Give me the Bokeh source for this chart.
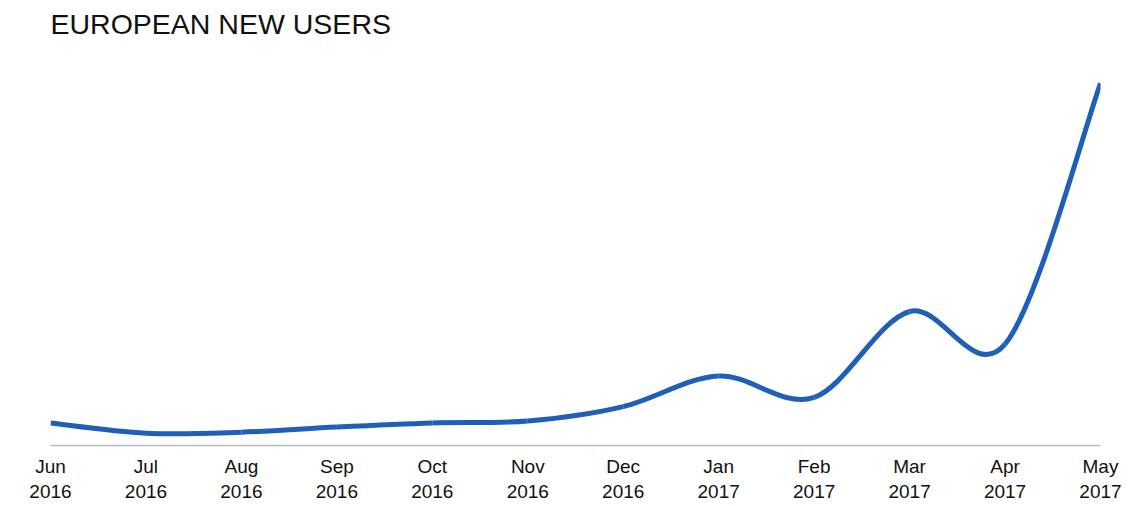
from bokeh.plotting import figure
from bokeh.models import FixedTicker, Range1d
from bokeh.embed import file_html
from bokeh.resources import INLINE

months = ["Jun", "Jul", "Aug", "Sep", "Oct", "Nov", "Dec", "Jan", "Feb", "Mar", "Apr", "May"]
years = ["2016"] * 7 + ["2017"] * 5
new_users = [22, 12, 13, 18, 22, 24, 38, 68, 47, 131, 99, 354]

n = len(new_users)
xs = list(range(n))

# Catmull-Rom -> cubic bezier control points derived from the data
x0, y0, x1, y1, cx0, cy0, cx1, cy1 = [], [], [], [], [], [], [], []
for i in range(n - 1):
    pm = i - 1 if i > 0 else i
    pp = i + 2 if i + 2 < n else i + 1
    x0.append(xs[i]); y0.append(new_users[i])
    x1.append(xs[i + 1]); y1.append(new_users[i + 1])
    cx0.append(xs[i] + (xs[i + 1] - xs[pm]) / 6)
    cy0.append(new_users[i] + (new_users[i + 1] - new_users[pm]) / 6)
    cx1.append(xs[i + 1] - (xs[pp] - xs[i]) / 6)
    cy1.append(new_users[i + 1] - (new_users[pp] - new_users[i]) / 6)

p = figure(width=1144, height=506, output_backend="svg", toolbar_location=None,
           title="EUROPEAN NEW USERS",
           x_range=Range1d(0, n - 1), y_range=Range1d(0, 392),
           min_border_left=50, min_border_right=44, min_border_bottom=61, min_border_top=19)
p.title.text_font = "Liberation Sans"
p.title.text_font_size = "28.5px"
p.title.text_font_style = "normal"
p.title.text_color = "#111111"

p.bezier(x0=x0, y0=y0, x1=x1, y1=y1, cx0=cx0, cy0=cy0, cx1=cx1, cy1=cy1,
         line_color="#1f5fb7", line_width=5)

p.yaxis.visible = False
p.xgrid.visible = False
p.ygrid.visible = False
p.outline_line_color = None
p.background_fill_color = "white"
p.border_fill_color = "white"

ax = p.xaxis[0]
ax.ticker = FixedTicker(ticks=xs)
ax.major_label_overrides = {i: f"{months[i]}\n{years[i]}" for i in xs}
ax.major_tick_line_color = None
ax.minor_tick_line_color = None
ax.major_tick_out = 0
ax.axis_line_color = "#bbbbbb"
ax.axis_line_width = 1.5
ax.major_label_text_font = "Liberation Sans"
ax.major_label_text_font_size = "19px"
ax.major_label_text_color = "#111111"
ax.major_label_standoff = 10

open("out.html", "w").write(file_html(p, INLINE))
